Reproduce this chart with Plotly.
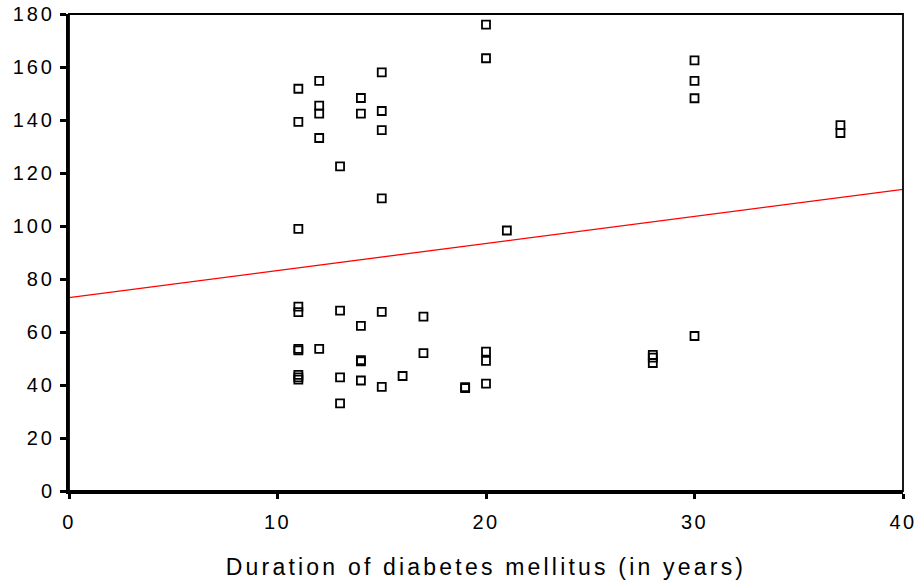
import plotly.graph_objects as go

# Duration of diabetes mellitus (years)
duration = [11, 11, 11, 11, 11, 11, 11, 11, 11, 11,
            12, 12, 12, 12, 12,
            13, 13, 13, 13,
            14, 14, 14, 14, 14, 14,
            15, 15, 15, 15, 15, 15,
            16, 17, 17, 19, 19,
            20, 20, 20, 20, 20,
            21, 28, 28, 28,
            30, 30, 30, 30,
            37, 37]
# Measured value (y)
value = [151.8, 139.3, 98.9, 69.6, 67.5, 53.6, 53.1, 43.8, 42.9, 42.0,
         154.8, 145.4, 142.4, 133.2, 53.6,
         122.5, 68.1, 42.9, 33.1,
         148.3, 142.4, 62.3, 49.4, 48.9, 41.7,
         158.0, 143.4, 136.2, 110.4, 67.6, 39.3,
         43.4, 65.8, 52.0, 39.2, 38.8,
         176.0, 163.3, 52.6, 49.1, 40.5,
         98.3, 51.4, 50.3, 48.3,
         162.5, 154.8, 148.2, 58.5,
         138.1, 135.1]

# Linear fit line parameters
fit_intercept = 73.0
fit_slope = 1.02
x_range = [0, 40]
y_range = [0, 180]
x_ticks = [0, 10, 20, 30, 40]
y_ticks = [0, 20, 40, 60, 80, 100, 120, 140, 160, 180]

fig = go.Figure()
fig.add_trace(go.Scatter(
    x=duration, y=value, mode="markers",
    marker=dict(symbol="square-open", size=8, color="black",
                line=dict(width=1.8, color="black")),
    showlegend=False, cliponaxis=False))
fig.add_trace(go.Scatter(
    x=x_range, y=[fit_intercept + fit_slope * v for v in x_range],
    mode="lines", line=dict(color="#ff0000", width=1.3),
    showlegend=False))

fig.add_shape(type="rect", xref="paper", yref="paper", x0=0, x1=1, y0=0, y1=1,
              line=dict(color="black", width=1.8), layer="above")

fig.update_layout(
    width=918, height=580,
    margin=dict(l=69, r=15, t=14, b=89),
    plot_bgcolor="white", paper_bgcolor="white",
    font=dict(family="Liberation Sans, Arial, sans-serif", color="black"),
    xaxis=dict(range=x_range, tickvals=x_ticks, showgrid=False, zeroline=False,
               showline=True, linecolor="black", linewidth=3, automargin=False,
               ticks="outside", ticklen=5, tickwidth=3, tickcolor="black",
               tickfont=dict(size=20), ticklabelstandoff=6,
               title=dict(text="Duration of diabetes mellitus (in years)",
                          font=dict(size=23), standoff=33)),
    yaxis=dict(range=y_range, tickvals=y_ticks, showgrid=False, zeroline=False,
               showline=True, linecolor="black", linewidth=3, automargin=False,
               ticks="outside", ticklen=6, tickwidth=3, tickcolor="black",
               tickfont=dict(size=20), ticklabelstandoff=1),
)

post = """
document.body.style.margin = '0';
var gd = document.getElementsByClassName('plotly-graph-div')[0];
gd.querySelectorAll('.ytick text').forEach(function(t){ t.style.letterSpacing = '3px'; });
gd.querySelectorAll('.xtick text').forEach(function(t){ t.style.letterSpacing = '2.5px'; });
gd.querySelectorAll('.g-xtitle text').forEach(function(t){ t.style.letterSpacing = '3.2px'; });
"""

fig.write_html("out.html", post_script=post, config={"displayModeBar": False})
